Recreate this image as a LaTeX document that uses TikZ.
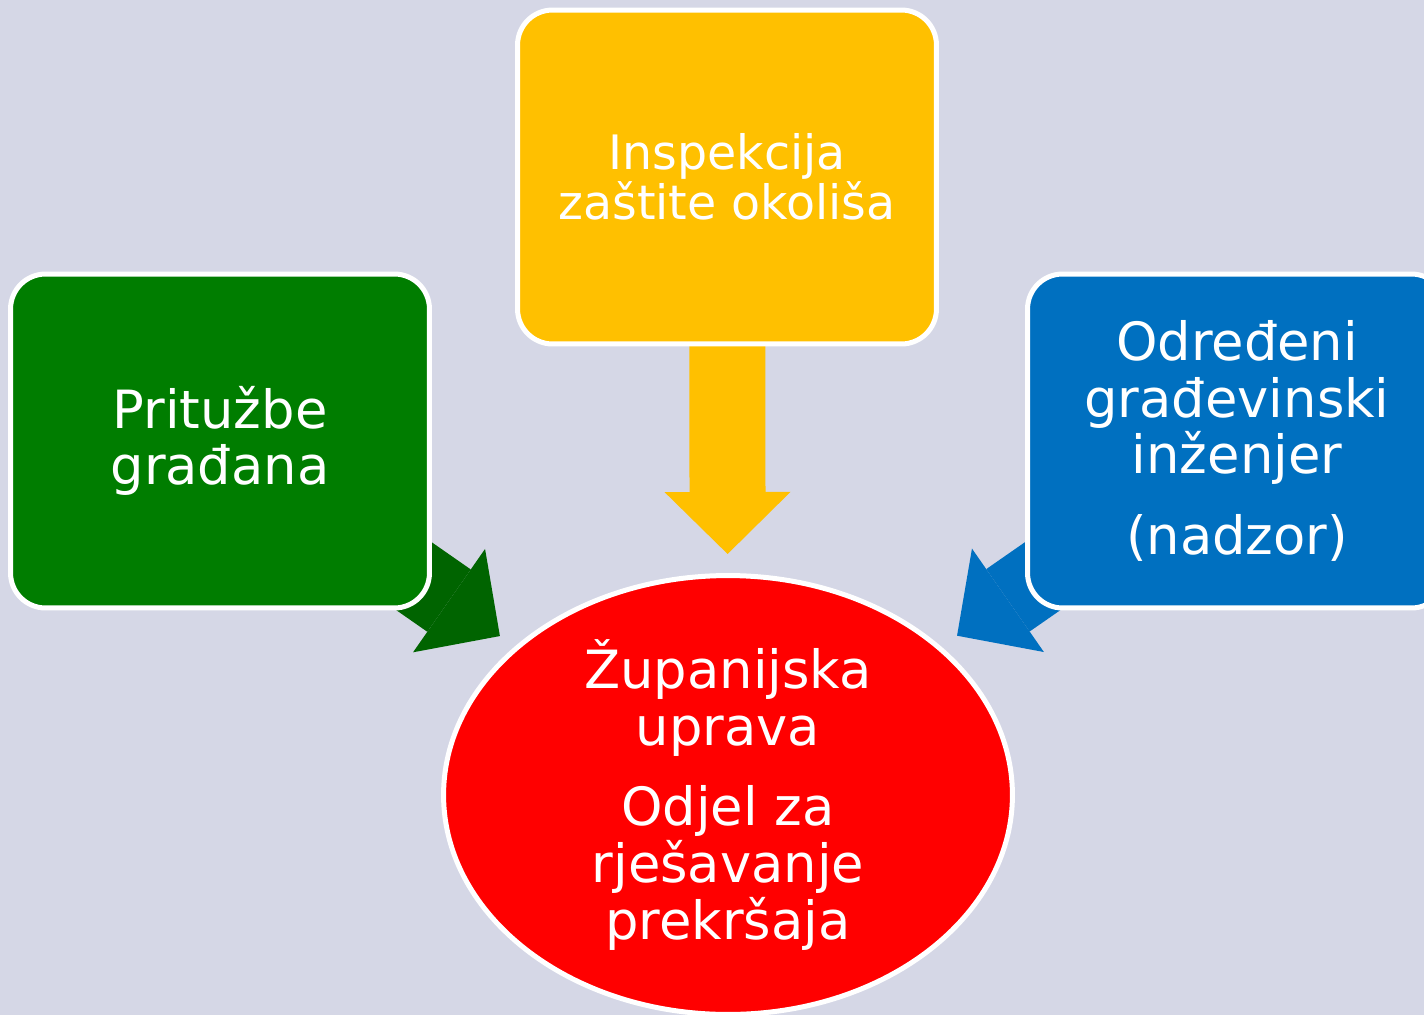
\documentclass[tikz,border=0pt]{standalone}
\usepackage{fontspec}
\setmainfont{DejaVu Sans}
\usetikzlibrary{arrows.meta,calc,shapes.geometric}
\definecolor{bgcol}{RGB}{213,215,230}
\definecolor{boxgreen}{RGB}{0,125,0}
\definecolor{arrowgreen}{RGB}{0,100,0}
\definecolor{boxyellow}{RGB}{255,192,0}
\definecolor{boxblue}{RGB}{0,112,192}
\pgfdeclarelayer{back}
\pgfsetlayers{back,main}
\tikzstyle{box}=[rectangle, rounded corners=0.7cm, draw=white, line width=0.1cm, minimum width=8.38cm, minimum height=6.68cm, inner sep=0pt, text=white, align=center, font=\fontsize{30}{32.3}\selectfont]
\tikzstyle{bubble}=[ellipse, draw=white, line width=0.1cm, fill=red, minimum width=11.38cm, minimum height=8.78cm, inner xsep=0pt, inner ysep=-0.6cm, text=white, align=center, font=\fontsize{30}{32.3}\selectfont]
\tikzstyle{fatarrow}=[line width=1.52cm, -{Triangle[length=1.24cm, width=2.52cm, line width=0pt]}]
\begin{document}
\begin{tikzpicture}[x=0.02cm, y=-0.02cm]
	\useasboundingbox (0,0) rectangle (1424,1015);

	\node[box, fill=boxgreen](green) at (220,441){Pritužbe\\građana};
	\node[box, fill=boxyellow, font=\fontsize{27}{28.6}\selectfont](yellow) at (727,177){Inspekcija\\zaštite okoliša};
	\node[box, fill=boxblue](blue) at (1237,441){Određeni\\građevinski\\inženjer\\[0.48cm](nadzor)};
	\node[bubble](red) at (728,795){Županijska\\uprava\\[0.48cm]Odjel za\\rješavanje\\prekršaja};

	\begin{pgfonlayer}{back}
		\fill[bgcol] (0,0) rectangle (1424,1015);
		\draw[fatarrow, arrowgreen] (green.center) -- ($(green.center)!0.551!(red.center)$);
		\draw[fatarrow, boxyellow] (yellow.center) -- ($(yellow.center)!0.61!(red.center)$);
		\draw[fatarrow, boxblue] (blue.center) -- ($(blue.center)!0.55!(red.center)$);
	\end{pgfonlayer}
\end{tikzpicture}
\end{document}
